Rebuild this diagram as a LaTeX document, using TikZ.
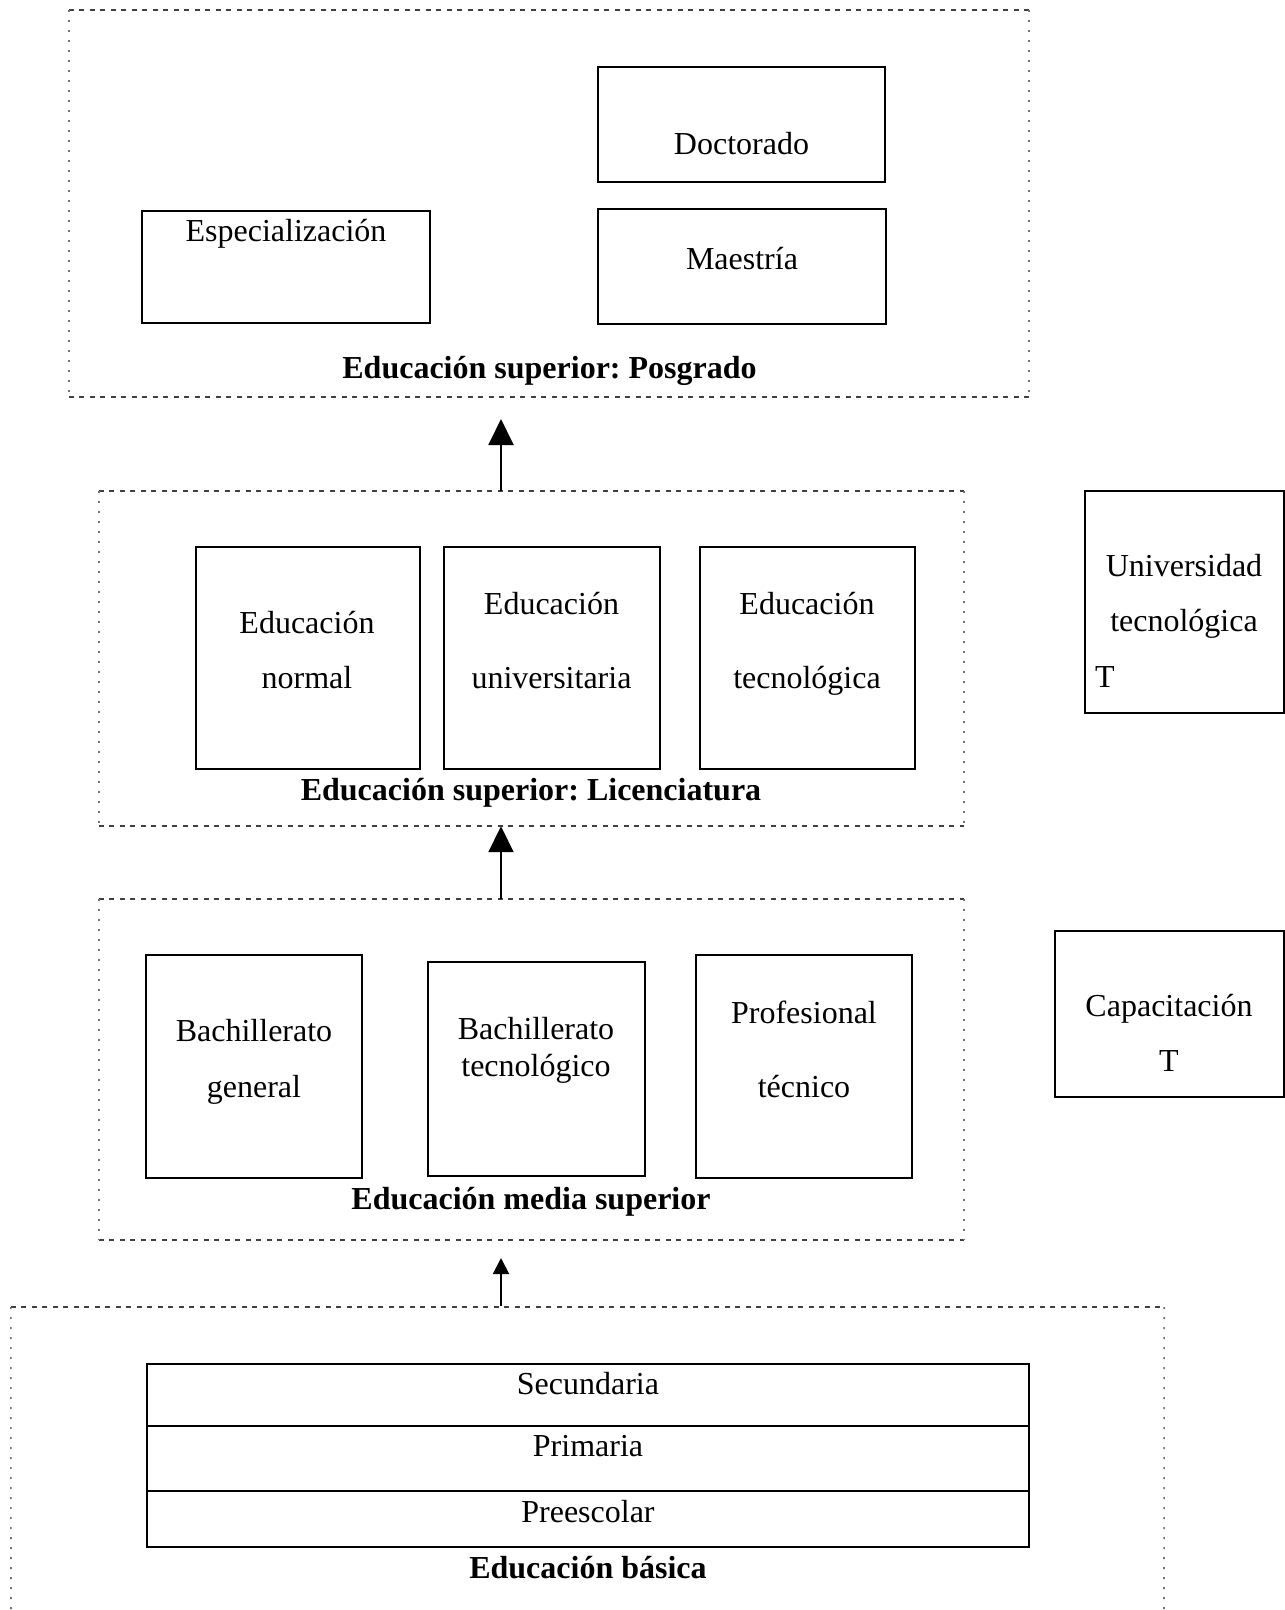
\documentclass[tikz,border=0pt]{standalone}
\usepackage{fontspec}
\setmainfont{Liberation Serif}
\frenchspacing
\usetikzlibrary{arrows.meta,fit}
\begin{document}
\begin{tikzpicture}[x=1pt,y=-1pt,
  box/.style={draw=black,line width=2pt,inner sep=0pt},
  area/.style={inner sep=0pt},
  dashedge/.style={draw=black!75,line width=1.6pt,dash pattern=on 5pt off 5.5pt},
  dotedge/.style={draw=black!55,line width=1.6pt,dash pattern=on 2pt off 8pt},
  txt/.style={inner sep=0pt,text height=0.66em,text depth=0pt,yshift=-7pt,font=\fontsize{32}{38}\selectfont\frenchspacing},
  btxt/.style={txt,font=\fontsize{32}{38}\selectfont\bfseries\frenchspacing},
  bigarrow/.style={line width=2pt,-{Triangle[width=25pt,length=26pt]}},
  smallarrow/.style={line width=2pt,-{Triangle[width=16pt,length=16pt]}}
]
\useasboundingbox (0,0) rectangle (1285,1610);

% ---------- Posgrado ----------
\node[area,fit={(69,10) (1029,397)}] (pos) {};
\draw[dashedge] (pos.north west) -- (pos.north east);
\draw[dashedge] (pos.south west) -- (pos.south east);
\draw[dotedge] (pos.north west) -- (pos.south west);
\draw[dotedge] (pos.north east) -- (pos.south east);
\node[box,fit={(598,67) (885,182)}] (doc) {};
\node[box,fit={(142,211) (430,323)}] (esp) {};
\node[box,fit={(598,209) (886,324)}] (mae) {};
\node[txt] (doct) at (741.5,144) {Doctorado};
\node[txt] (espt) at (286,231) {Especialización};
\node[txt] (maet) at (742,259) {Maestría};
\node[btxt] (post) at (549.5,368) {Educación superior: Posgrado};

% ---------- Licenciatura ----------
\node[area,fit={(99,491) (964,826)}] (lic) {};
\draw[dashedge] (lic.north west) -- (lic.north east);
\draw[dashedge] (lic.south west) -- (lic.south east);
\draw[dotedge] (lic.north west) -- (lic.south west);
\draw[dotedge] (lic.north east) -- (lic.south east);
\node[box,fit={(196,547) (420,769)}] (nor) {};
\node[box,fit={(444,547) (660,769)}] (uni) {};
\node[box,fit={(700,547) (915,769)}] (tec) {};
\node[txt] (nor1) at (307,623) {Educación};
\node[txt] (nor2) at (307,678) {normal};
\node[txt] (uni1) at (551.5,604) {Educación};
\node[txt] (uni2) at (551.5,678) {universitaria};
\node[txt] (tec1) at (807,604) {Educación};
\node[txt] (tec2) at (807,678) {tecnológica};
\node[btxt] (lict) at (531,790) {Educación superior: Licenciatura};

% ---------- Media superior ----------
\node[area,fit={(99,899) (964,1240)}] (med) {};
\draw[dashedge] (med.north west) -- (med.north east);
\draw[dashedge] (med.south west) -- (med.south east);
\draw[dotedge] (med.north west) -- (med.south west);
\draw[dotedge] (med.north east) -- (med.south east);
\node[box,fit={(146,955) (362,1178)}] (bg) {};
\node[box,fit={(428,962) (645,1176)}] (bt) {};
\node[box,fit={(696,955) (912,1178)}] (pt) {};
\node[txt] (bg1) at (254,1031) {Bachillerato};
\node[txt] (bg2) at (254,1087) {general};
\node[txt] (bt1) at (536,1029) {Bachillerato};
\node[txt] (bt2) at (536,1066) {tecnológico};
\node[txt] (pt1) at (804,1013) {Profesional};
\node[txt] (pt2) at (804,1087) {técnico};
\node[btxt] (medt) at (531,1199) {Educación media superior};

% ---------- Basica ----------
\coordinate (basbl) at (11,1610);
\coordinate (basbr) at (1164,1610);
\node[area,fit={(11,1307) (1164,1307)}] (bas) {};
\draw[dashedge] (bas.west) -- (bas.east);
\draw[dotedge] (bas.west) -- (basbl);
\draw[dotedge] (bas.east) -- (basbr);
\node[box,fit={(147,1364) (1029,1426)}] (sec) {};
\node[box,fit={(147,1426) (1029,1491)}] (pri) {};
\node[box,fit={(147,1491) (1029,1547)}] (pre) {};
\node[txt] (sect) at (588,1384) {Secundaria};
\node[txt] (prit) at (588,1446) {Primaria};
\node[txt] (pret) at (588,1512) {Preescolar};
\node[btxt] (bast) at (588,1568) {Educación básica};

% ---------- Right boxes ----------
\node[box,fit={(1085,491) (1284,713)}] (ut) {};
\node[txt] (ut1) at (1184,566) {Universidad};
\node[txt] (ut2) at (1184,621) {tecnológica};
\node[txt,anchor=west] (ut3) at (1095,677) {T};
\node[box,fit={(1055,931) (1284,1097)}] (cap) {};
\node[txt] (cap1) at (1169,1006) {Capacitación};
\node[txt] (cap2) at (1169,1061) {T};

% ---------- Arrows ----------
\coordinate (a1) at (501,419);
\coordinate (a3) at (501,1258);
\draw[bigarrow] (a1 |- lic.north) -- (a1);
\draw[bigarrow] (a1 |- med.north) -- (a1 |- lic.south);
\draw[smallarrow] (a3 |- bas.north) -- (a3);
\end{tikzpicture}
\end{document}
